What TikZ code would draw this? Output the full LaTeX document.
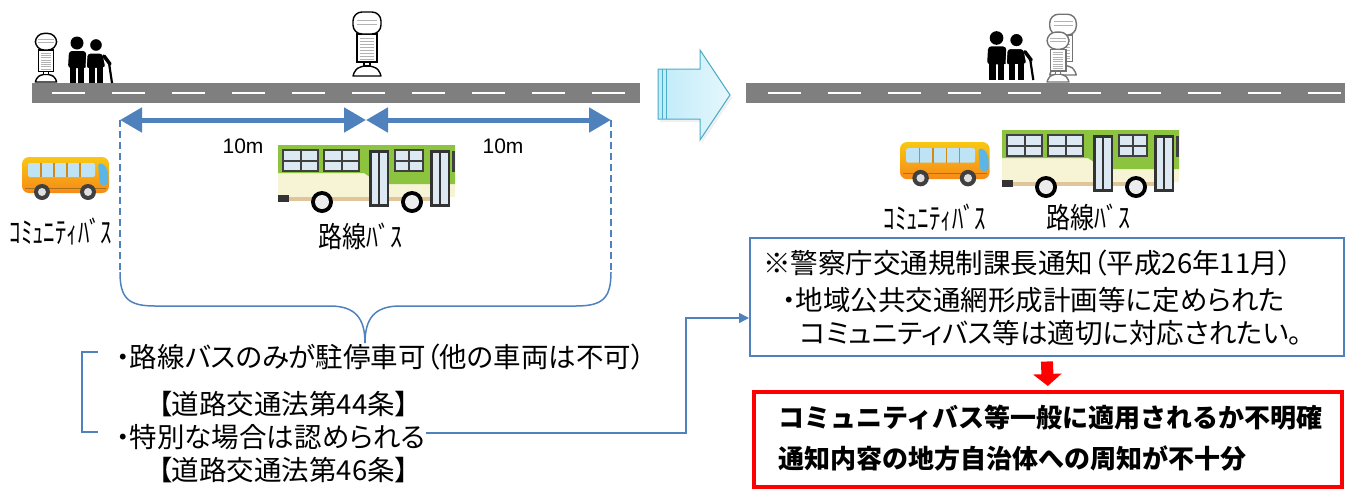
\documentclass[tikz,border=0pt]{standalone}
\usepackage{fontspec}
\setmainfont{Noto Sans CJK JP}
\newfontfamily\jpprop[CharacterWidth=AlternateProportional]{Noto Sans CJK JP}
\newfontfamily\latin{Liberation Sans}
\usetikzlibrary{arrows.meta,calc,positioning}

\definecolor{linkblue}{HTML}{4F81BD}
\definecolor{roadgray}{HTML}{7F7F7F}
\definecolor{skyfill}{HTML}{BFEBF9}
\definecolor{skyedge}{HTML}{4BACC6}
\definecolor{busorange}{HTML}{F5A21E}
\definecolor{winblue}{HTML}{BEE3F5}
\definecolor{frontblue}{HTML}{5BB5E6}
\definecolor{busgreen}{HTML}{8DC43F}
\definecolor{buscream}{HTML}{F7F4D6}
\definecolor{pane}{HTML}{DCE9F2}
\definecolor{alertred}{HTML}{FF0000}

\tikzset{
  road/.style={fill=roadgray},
  lane/.style={white, line width=2pt, dash pattern=on 33pt off 27pt},
  dimline/.style={linkblue, line width=5pt,
    {Triangle[length=22pt,width=24pt]}-{Triangle[length=22pt,width=24pt]}},
  guide/.style={linkblue, line width=1.5pt, dash pattern=on 7pt off 4pt},
  bracepath/.style={linkblue, line width=1.5pt},
  link/.style={linkblue, line width=1.5pt, -{Triangle[length=10pt,width=10pt]}},
  txt/.style={font=\jpprop\fontsize{27.5pt}{30pt}\selectfont, anchor=west, inner sep=0pt},
  boldtxt/.style={anchor=west, inner sep=0pt, font=\fontsize{26pt}{30pt}\selectfont\bfseries},
  buslabel/.style={font=\fontsize{24pt}{26pt}\selectfont, inner sep=0pt},
  distlabel/.style={font=\latin\fontsize{21pt}{24pt}\selectfont, inner sep=0pt},
  % bus stop pole, origin at the foot
  pics/busstop/.style={code={
    \draw[line width=1.4pt, fill=white, line join=round]
      (-14,0) -- (14,0) -- (13,-3) .. controls (10,-8) .. (3,-10)
      -- (-3,-10) .. controls (-10,-8) .. (-13,-3) -- cycle;
    \draw[line width=1.4pt, fill=white] (-3,-14) rectangle (3,-10);
    \draw[line width=1.4pt, fill=white] (-10,-42) rectangle (10,-14);
    \foreach \s in {-38,-35,...,-17} \draw[gray!60, line width=0.8pt] (-7,\s) -- (7,\s);
    \draw[line width=1.4pt, fill=white, rounded corners=9pt] (-14,-64) rectangle (14,-42);
    \foreach \s in {-56,-52} \draw[gray!60, line width=0.8pt] (-10,\s) -- (10,\s);
  }},
  % two walkers, origin at the feet on the left
  pics/elders/.style={code={
    \fill (11,-40) circle (6.5);
    \fill[rounded corners=3pt] (2,-15) -- (3,-32) -- (20,-32) -- (21,-15) -- cycle;
    \fill (4,-17) rectangle (10,0);
    \fill (12,-17) rectangle (18,0);
    \filldraw[draw=white, line width=1.2pt] (30,-38) circle (6.5);
    \filldraw[draw=white, line width=1.2pt, rounded corners=3pt]
      (20,-14) -- (21,-30) -- (37,-30) -- (40,-15) -- cycle;
    \fill (23,-16) rectangle (29,0);
    \fill (31,-16) rectangle (37,0);
    \draw[line width=3.5pt, line cap=round] (38,-27) -- (44,-19);
    \draw[line width=2.2pt] (43,-20) -- (46,0);
  }},
  % small orange bus, origin top left
  pics/minibus/.style={code={
    \shade[top color=busorange!60!yellow, bottom color=busorange!85!red, rounded corners=7pt]
      (0,2) rectangle (87,38);
    \fill[winblue, rounded corners=2pt] (6,8) rectangle (73,22);
    \foreach \x in {19,32,45,58} \draw[busorange!85!black, line width=1.2pt] (\x,8) -- (\x,22);
    \fill[frontblue, rounded corners=3pt] (76,8) -- (82,9) -- (86,16) -- (86,30) -- (78,30) -- cycle;
    \draw[busorange!70!black, line width=1pt] (3,33) -- (84,33);
    \foreach \x in {20,66} {
      \fill[black!75] (\x,37) circle (8);
      \fill[gray!25] (\x,37) circle (4);
    }
  }},
  % green route bus, origin top left
  pics/routebus/.style={code={
    \fill[buscream] (0,0) rectangle (177,52);
    \fill[busgreen] (0,0) -- (177,0) -- (177,39) -- (102,39) -- (86,28) -- (0,28) -- cycle;
    \foreach \x/\w in {4/37, 45/37, 116/30} {
      \fill[black!75] (\x,4) rectangle ++(\w,23);
      \fill[pane] (\x+2,6) rectangle ++(\w/2-3,8.5);
      \fill[pane] (\x+\w/2+1,6) rectangle ++(\w/2-3,8.5);
      \fill[pane] (\x+2,16.5) rectangle ++(\w/2-3,8.5);
      \fill[pane] (\x+\w/2+1,16.5) rectangle ++(\w/2-3,8.5);
    }
    \foreach \x in {91,152} {
      \fill[black!80] (\x,5) rectangle ++(20,57);
      \fill[pane] (\x+2.5,8) rectangle ++(6.5,51);
      \fill[pane] (\x+11,8) rectangle ++(6.5,51);
    }
    \fill[black!75] (174,6) rectangle (177,27);
    \fill[buscream!60!brown] (0,52) rectangle (91,56);
    \fill[buscream!60!brown] (111,52) rectangle (152,56);
    \fill[black!80] (0,50) rectangle (11,57);
    \foreach \x in {44,134} {
      \fill[black] (\x,57) circle (11);
      \fill[gray!15] (\x,57) circle (7);
    }
  }},
}

\begin{document}
\begin{tikzpicture}[x=1pt, y=-1pt]
\useasboundingbox (0,0) rectangle (1345,488);

% street, present rule
\fill[road] (32,83) rectangle (640,103);
\draw[lane] (52,93) -- (640,93);
\pic[scale=0.76] at (46,82) {busstop};
\pic at (66,83) {elders};
\pic at (367,76) {busstop};

% 10m either side of the stop
\coordinate (d0) at (120,120);
\coordinate (d1) at (366,120);
\coordinate (d2) at (611,120);
\draw[dimline] (d0) -- (d1);
\draw[dimline] (d1) -- (d2);
\node[distlabel] (len1) at (243,146) {10m};
\node[distlabel] (len2) at (503,146) {10m};
\draw[guide] (d0) -- (120,272);
\draw[guide] (d2) -- (611,272);
\draw[bracepath] (120,272) .. controls (120,298) and (128,306) .. (155,306)
  -- (330,306) .. controls (355,306) and (365,318) .. (365,343)
  .. controls (365,318) and (375,306) .. (400,306)
  -- (576,306) .. controls (603,306) and (611,298) .. (611,272);

% vehicles
\pic at (22,155) {minibus};
\node[buslabel] (cbus1) at (61,231) {\scalebox{0.95}[1.25]{ｺﾐｭﾆﾃｨﾊﾞｽ}};
\pic at (278,145) {routebus};
\node[buslabel] (rbus1) at (360,236) {\scalebox{1}[1.2]{路線ﾊﾞｽ}};

% rules in the road traffic act
\node[txt] (rule1) at (116,357) {・路線バスのみが駐停車可（他の車両は不可）};
\node[txt] (law44) at (158,404) {【道路交通法第44条】};
\node[txt] (rule2) at (116,437) {・特別な場合は認められる};
\node[txt] (law46) at (158,470) {【道路交通法第46条】};
\draw[bracepath] (98,352) -- (82,352) -- (82,432) -- (98,432);

% before -> after
\fill[gray!40, opacity=0.3] (660,72) -- (702,72) -- (702,53) -- (732,98)
  -- (702,143) -- (702,122) -- (660,122) -- cycle;
\shadedraw[left color=skyfill, right color=skyfill!40!white, draw=skyedge, line width=1pt]
  (658,69) -- (700,69) -- (700,50) -- (730,95) -- (700,140) -- (700,119) -- (658,119) -- cycle;
\draw[skyedge, line width=1pt] (662,69) -- (662,119) (666,69) -- (666,119);

% street, shared stop
\fill[road] (746,83) rectangle (1345,103);
\draw[lane] (768,93) -- (1345,93);
\pic[scale=1.05] at (985,80) {elders};
\pic[black!55, scale=0.95] at (1063,75) {busstop};
\pic[black!55, scale=0.78] at (1058,82) {busstop};

\pic[scale=1.03] at (900,140) {minibus};
\node[buslabel] (cbus2) at (935,217) {\scalebox{0.95}[1.25]{ｺﾐｭﾆﾃｨﾊﾞｽ}};
\pic at (1002,130) {routebus};
\node[buslabel] (rbus2) at (1088,217) {\scalebox{1}[1.2]{路線ﾊﾞｽ}};

% police notice
\node[draw=linkblue, line width=1.5pt, minimum width=594pt, minimum height=118pt,
  anchor=north west, inner sep=0pt] (notice) at (749,237) {};
\node[txt] (notehead) at (763,263) {※警察庁交通規制課長通知（平成26年11月）};
\node[txt] (note1) at (782,300) {・地域公共交通網形成計画等に定められた};
\node[txt] (note2) at (800,333) {コミュニティバス等は適切に対応されたい。};
\coordinate (bend) at (686,318);
\draw[link] ([yshift=4pt]rule2.east) -| (bend) -- (bend -| notice.west);

% remaining issues
\node[draw=alertred, line width=4pt, minimum width=588pt, minimum height=95pt,
  anchor=north west, inner sep=0pt] (verdict) at (752,390) {};
\node[boldtxt] (issue1) at (778,418) {コミュニティバス等一般に適用されるか不明確};
\node[boldtxt] (issue2) at (778,458) {通知内容の地方自治体への周知が不十分};
\draw[alertred, line width=12pt, -{Triangle[length=12pt,width=28pt]},
  shorten <=5pt, shorten >=4pt] (notice.south) -- (verdict.north);
\end{tikzpicture}
\end{document}
